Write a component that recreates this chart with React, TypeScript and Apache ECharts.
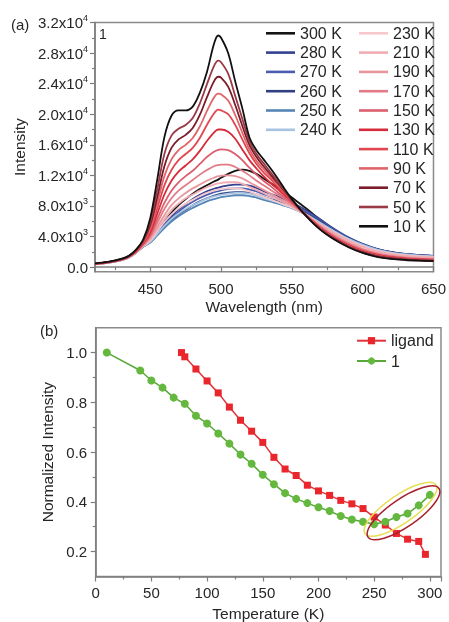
import React, { useEffect, useRef } from 'react';
import * as echarts from 'echarts';

// ---------- (a) emission spectra ----------
const wavelengths = [411,420,430,435,440,445,450,455,460,465,470,475,480,485,490,495,498,500,505,510,515,520,525,530,535,540,545,550,560,570,580,590,600,610,620,630,640,650];

const I300 = [450,640,1000,1380,2050,2900,3600,4700,5900,7100,8100,8900,9600,10200,10700,11200,11450,11700,12200,12600,12750,12600,12200,11600,11000,10400,9800,9100,7700,6200,4850,3700,2850,2250,1850,1600,1450,1380];
const I280 = [410,590,960,1310,1920,2750,3450,4550,5650,6650,7550,8250,8900,9450,9900,10250,10400,10500,10700,10800,10800,10650,10350,9950,9600,9250,8850,8450,7450,6250,5000,3900,3030,2400,1980,1730,1570,1470];
const I270 = [400,580,950,1300,1900,2700,3350,4400,5450,6450,7250,7950,8550,9050,9450,9800,9950,10050,10250,10300,10300,10150,9900,9550,9250,8900,8550,8200,7250,6100,4900,3850,3000,2380,1970,1720,1560,1460];
const I260 = [390,570,940,1280,1880,2700,3250,4250,5250,6150,6900,7500,8100,8600,9000,9350,9500,9600,9750,9800,9800,9700,9500,9200,8900,8600,8300,7950,7050,5950,4800,3800,2950,2350,1950,1700,1550,1450];
const I250 = [380,560,930,1270,1860,2650,3200,4150,5100,5950,6650,7250,7750,8200,8600,8900,9050,9150,9300,9400,9400,9300,9100,8800,8550,8300,8000,7700,6850,5800,4700,3700,2900,2300,1900,1650,1500,1420];
const I240 = [380,560,940,1280,1880,2700,3300,4350,5400,6300,7000,7600,8100,8550,8950,9250,9400,9450,9600,9700,9700,9600,9350,9050,8750,8450,8100,7800,6900,5800,4700,3700,2900,2300,1900,1650,1500,1400];
const I230 = [390,570,950,1290,1900,2750,3450,4700,5900,6900,7700,8300,8800,9300,9700,10000,10150,10200,10300,10300,10200,9900,9550,9200,8850,8500,8150,7800,6800,5650,4550,3550,2750,2150,1780,1550,1420,1330];
const I210 = [400,580,960,1300,1920,2800,3600,5000,6300,7500,8300,9000,9500,10000,10450,10800,10950,11000,11100,11100,10900,10500,10100,9700,9250,8850,8400,7950,6850,5600,4450,3450,2650,2050,1700,1500,1380,1300];
const I190 = [410,590,970,1320,1950,2850,3800,5300,6800,8100,9000,9700,10300,10800,11300,11700,11900,11950,12000,11900,11600,11100,10600,10100,9600,9100,8600,8100,6800,5400,4200,3200,2400,1850,1500,1300,1180,1100];
const I170 = [420,600,980,1340,1980,2900,4000,5800,7600,9000,10000,10700,11400,12100,12700,13200,13350,13400,13400,13100,12600,12000,11300,10700,10100,9500,8900,8300,6800,5300,4050,3050,2300,1760,1420,1240,1120,1050];
const I150 = [430,610,990,1360,2000,3000,4200,6300,8400,10000,11100,11900,12600,13500,14400,15100,15350,15400,15300,14800,14000,13000,12100,11300,10600,9800,9100,8400,6800,5200,3950,2950,2200,1680,1360,1180,1070,1000];
const I130 = [440,620,1000,1380,2050,3100,4500,7000,9500,11300,12500,13300,14100,15200,16500,17600,18000,18000,17700,16800,15400,14000,12900,11900,11000,10200,9400,8600,6800,5150,3850,2850,2100,1600,1300,1120,1020,960];
const I110 = [450,630,1020,1400,2100,3200,4800,7700,10700,12700,14000,14800,15600,16900,18600,20100,20600,20500,20000,18600,16700,14900,13500,12400,11500,10500,9600,8700,6800,5100,3800,2800,2050,1550,1250,1080,980,920];
const I90 = [460,640,1040,1420,2150,3300,5100,8400,11900,14100,15300,16000,16900,18400,20400,22200,22700,22600,21800,19900,17600,15400,13900,12800,11800,10800,9800,8750,6800,5050,3750,2750,2000,1500,1200,1040,940,880];
const I70 = [470,650,1060,1450,2200,3400,5500,9200,13200,15600,16700,17300,18200,19900,22200,24300,24900,24800,23600,21200,18500,16000,14400,13200,12100,11000,9900,8800,6750,5000,3700,2700,1950,1450,1160,1000,900,840];
const I50 = [480,660,1080,1470,2250,3500,5900,10200,14800,17200,18100,18600,19500,21400,23900,26300,27000,26800,25300,22400,19400,16500,14800,13600,12400,11200,10000,8800,6700,4950,3650,2650,1900,1400,1120,970,870,810];
const I10 = [500,680,1100,1500,2300,3600,6400,11500,17000,19800,20500,20500,21000,22800,25500,29200,30300,30000,28000,24300,20800,17000,15300,14100,12900,11600,10200,8900,6700,4900,3600,2600,1850,1350,1080,930,840,780];

const spectrumLabels = ['300 K','280 K','270 K','260 K','250 K','240 K','230 K','210 K','190 K','170 K','150 K','130 K','110 K','90 K','70 K','50 K','10 K'];
const spectrumValues = [I300,I280,I270,I260,I250,I240,I230,I210,I190,I170,I150,I130,I110,I90,I70,I50,I10];
const spectrumColors = ['#141414','#33408f','#4a5cb0','#2f4180','#5585b5','#a7c3e2','#f6c8cc','#f0acb2','#e9959d','#e27b86','#dc5f6d','#d62b3b','#e2474f','#e06468','#7c1b29','#9b3a47','#111111'];

const xTicksA = [450, 500, 550, 600, 650];
const xMinorA = [425, 475, 525, 575, 625];
const yTicksA = [0, 4000, 8000, 12000, 16000, 20000, 24000, 28000, 32000];
const yMinorA = [2000, 6000, 10000, 14000, 18000, 22000, 26000, 30000];

// ---------- (b) normalized intensity ----------
const ligandTemp = [77, 80, 90, 100, 110, 120, 130, 140, 150, 160, 170, 180, 190, 200, 210, 220, 230, 240, 250, 260, 270, 280, 290, 296];
const ligandNorm = [1.0, 0.983, 0.934, 0.886, 0.838, 0.781, 0.728, 0.684, 0.639, 0.579, 0.532, 0.506, 0.467, 0.444, 0.426, 0.406, 0.392, 0.373, 0.339, 0.307, 0.273, 0.25, 0.241, 0.189];
const complexTemp = [10, 40, 50, 60, 70, 80, 90, 100, 110, 120, 130, 140, 150, 160, 170, 180, 190, 200, 210, 220, 230, 240, 250, 260, 270, 280, 290, 300];
const complexNorm = [1.0, 0.928, 0.888, 0.859, 0.819, 0.794, 0.746, 0.715, 0.675, 0.634, 0.59, 0.553, 0.509, 0.471, 0.435, 0.412, 0.395, 0.378, 0.363, 0.343, 0.329, 0.32, 0.31, 0.32, 0.339, 0.353, 0.386, 0.428];
const yTicksB = [0.2, 0.4, 0.6, 0.8, 1.0];
const yMinorB = [0.3, 0.5, 0.7, 0.9];

const FONT = '"Liberation Sans", Arial, Helvetica, sans-serif';
const AXIS_COLOR = '#7d7d7d';
const TEXT_COLOR = '#262626';

export default function App() {
  const ref = useRef<HTMLDivElement>(null);
  useEffect(() => {
    const chart = echarts.init(ref.current!, null, { renderer: 'svg' });

    const sci = (v: number) => {
      if (v === 0) return '{m|0.0}';
      const e = Math.floor(Math.log10(v) + 1e-9);
      const m = (v / Math.pow(10, e)).toFixed(1);
      return `{m|${m}x10}{e|${e}}`;
    };

    const label = { color: TEXT_COLOR, fontSize: 15, fontFamily: FONT };
    const axisLine = { show: true, lineStyle: { color: AXIS_COLOR, width: 1.5 } };
    const tickStyle = { color: AXIS_COLOR, width: 1.2 };
    const nameStyle = { fontSize: 15.5, color: TEXT_COLOR, fontFamily: FONT };

    const spectraSeries = spectrumLabels.map((name, i) => ({
      type: 'line',
      name,
      xAxisIndex: 0,
      yAxisIndex: 0,
      data: wavelengths.map((w, j) => [w, spectrumValues[i][j]]),
      smooth: 0.35,
      symbol: 'none',
      lineStyle: { color: spectrumColors[i], width: 1.8 },
      itemStyle: { color: spectrumColors[i] },
      z: 2 + i,
    }));

    const legendText = { fontSize: 16, lineHeight: 16, color: TEXT_COLOR, fontFamily: FONT };

    const option: any = {
      animation: false,
      textStyle: { fontFamily: FONT },
      grid: [
        { left: 95, right: 13, top: 22.5, height: 249.2, show: true, borderColor: '#8a8a8a', borderWidth: 1.5 },
        { left: 95.7, right: 8, top: 327.7, height: 252.3, show: true, borderColor: '#8a8a8a', borderWidth: 1.5 },
      ],
      xAxis: [
        {
          type: 'value', gridIndex: 0, position: 'bottom', min: 411, max: 650,
          axisLine, splitLine: { show: false },
          axisTick: { show: true, length: 5, customValues: xTicksA, lineStyle: tickStyle },
          axisLabel: { ...label, margin: 9, customValues: xTicksA },
          name: 'Wavelength (nm)', nameLocation: 'middle', nameGap: 27, nameTextStyle: nameStyle,
        },
        {
          type: 'value', gridIndex: 0, position: 'bottom', min: 411, max: 650,
          axisLine: { show: false }, splitLine: { show: false }, axisLabel: { show: false },
          axisTick: { show: true, length: 3, customValues: xMinorA, lineStyle: tickStyle },
        },
        {
          type: 'value', gridIndex: 1, position: 'bottom', min: 0, max: 310, interval: 50,
          axisLine, splitLine: { show: false },
          axisTick: { show: true, length: 5, lineStyle: tickStyle },
          minorTick: { show: true, splitNumber: 2, length: 3, lineStyle: tickStyle },
          axisLabel: { ...label, margin: 8, showMaxLabel: false },
          name: 'Temperature (K)', nameLocation: 'middle', nameGap: 28.5, nameTextStyle: nameStyle,
        },
      ],
      yAxis: [
        {
          type: 'value', gridIndex: 0, position: 'left', min: -600, max: 32000,
          axisLine, splitLine: { show: false },
          axisTick: { show: true, length: 5, customValues: yTicksA, lineStyle: tickStyle },
          axisLabel: {
            ...label, margin: 7, customValues: yTicksA, formatter: sci,
            rich: {
              m: { fontSize: 15, color: TEXT_COLOR, fontFamily: FONT },
              e: { fontSize: 9, color: TEXT_COLOR, fontFamily: FONT, padding: [0, 0, 9, 0] },
            },
          },
          name: 'Intensity', nameLocation: 'middle', nameGap: 68, nameTextStyle: nameStyle,
        },
        {
          type: 'value', gridIndex: 0, position: 'left', min: -600, max: 32000,
          axisLine: { show: false }, splitLine: { show: false }, axisLabel: { show: false },
          axisTick: { show: true, length: 3, customValues: yMinorA, lineStyle: tickStyle },
        },
        {
          type: 'value', gridIndex: 1, position: 'left', min: 0.1, max: 1.1,
          axisLine, splitLine: { show: false },
          axisTick: { show: true, length: 5, customValues: yTicksB, lineStyle: tickStyle },
          axisLabel: { ...label, margin: 8.5, customValues: yTicksB, formatter: (v: number) => v.toFixed(1) },
          name: 'Normalized Intensity', nameLocation: 'middle', nameGap: 40, nameTextStyle: nameStyle,
        },
        {
          type: 'value', gridIndex: 1, position: 'left', min: 0.1, max: 1.1,
          axisLine: { show: false }, splitLine: { show: false }, axisLabel: { show: false },
          axisTick: { show: true, length: 3, customValues: yMinorB, lineStyle: tickStyle },
        },
      ],
      legend: [
        {
          data: spectrumLabels.slice(0, 6), orient: 'vertical', left: 266, top: 25.3, padding: 0,
          icon: 'rect', itemWidth: 29, itemHeight: 2.6, itemGap: 3.3, textStyle: legendText, selectedMode: false,
        },
        {
          data: spectrumLabels.slice(6), orient: 'vertical', left: 359, top: 25.3, padding: 0,
          icon: 'rect', itemWidth: 29, itemHeight: 2.6, itemGap: 3.3, textStyle: legendText, selectedMode: false,
        },
        {
          data: ['ligand', '1'], orient: 'vertical', left: 356, top: 332.7, padding: 0,
          itemWidth: 29, itemHeight: 9, itemGap: 4.3, textStyle: legendText, selectedMode: false,
        },
      ],
      series: [
        ...spectraSeries,
        {
          type: 'line', name: 'ligand', xAxisIndex: 2, yAxisIndex: 2,
          data: ligandTemp.map((t, i) => [t, ligandNorm[i]]),
          symbol: 'rect', symbolSize: 7,
          lineStyle: { color: '#e0343a', width: 1.5 },
          itemStyle: { color: '#e8262c' },
          z: 3,
        },
        {
          type: 'line', name: '1', xAxisIndex: 2, yAxisIndex: 2,
          data: complexTemp.map((t, i) => [t, complexNorm[i]]),
          symbol: 'circle', symbolSize: 8,
          lineStyle: { color: '#58a83a', width: 1.5 },
          itemStyle: { color: '#64b83e' },
          z: 4,
        },
      ],
    };

    chart.setOption(option);

    const center = chart.convertToPixel({ seriesIndex: spectrumLabels.length } as any, [275, 0.364]) as number[];
    const rot = 0.6;
    chart.setOption({
      graphic: [
        { type: 'text', left: 11, top: 17, style: { text: '(a)', fontSize: 15, fill: TEXT_COLOR, fontFamily: FONT } },
        { type: 'text', left: 40, top: 323, style: { text: '(b)', fontSize: 15, fill: TEXT_COLOR, fontFamily: FONT } },
        { type: 'text', left: 99, top: 27, style: { text: '1', fontSize: 14, fill: TEXT_COLOR, fontFamily: FONT } },
        {
          type: 'ellipse', x: center[0] - 1.5, y: center[1] - 1.5, rotation: rot, z: 10,
          shape: { cx: 0, cy: 0, rx: 43, ry: 14 },
          style: { fill: 'none', stroke: '#e6df55', lineWidth: 1.5 },
        },
        {
          type: 'ellipse', x: center[0] + 1.5, y: center[1] + 2, rotation: rot, z: 10,
          shape: { cx: 0, cy: 0, rx: 43, ry: 14 },
          style: { fill: 'none', stroke: '#a8202c', lineWidth: 1.5 },
        },
      ],
    });

    return () => chart.dispose();
  }, []);

  return <div ref={ref} style={{ position: 'fixed', left: 0, top: 0, width: 449, height: 622 }} />;
}
